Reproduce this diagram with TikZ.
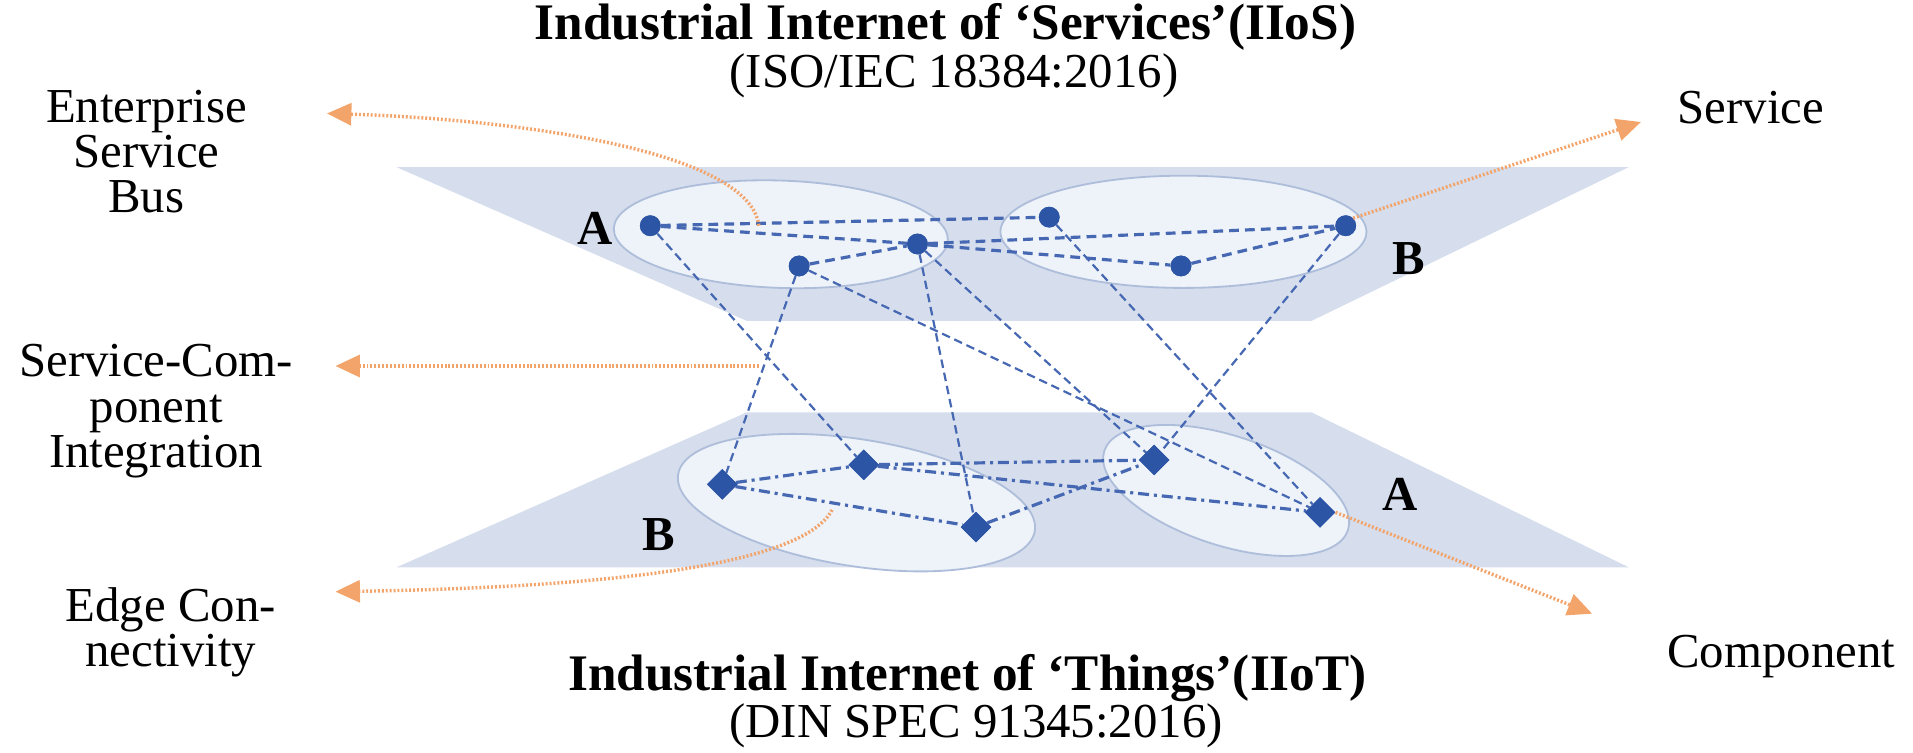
\documentclass[tikz,border=0pt]{standalone}
\usepackage{fontspec}
\setmainfont{Liberation Serif}
\usetikzlibrary{arrows.meta,shapes.geometric,calc}
\definecolor{planec}{HTML}{D6DEEE}
\definecolor{ellfill}{HTML}{EEF2F9}
\definecolor{elldraw}{HTML}{AEBEDA}
\definecolor{dotc}{HTML}{2D55A5}
\definecolor{linec}{HTML}{4668B2}
\definecolor{orangec}{HTML}{F2A46B}
\tikzset{
  plane/.style={fill=planec, draw=none},
  grp/.style={fill=ellfill, draw=elldraw, line width=1.5pt},
  dot/.style={circle, fill=dotc, inner sep=0pt, minimum size=17pt},
  dia/.style={diamond, fill=dotc, inner sep=0pt, minimum size=25pt},
  topedge/.style={draw=linec, line width=2.6pt, dash pattern=on 8pt off 5pt},
  crossedge/.style={draw=linec, line width=1.8pt, dash pattern=on 7pt off 4pt},
  botedge/.style={draw=linec, line width=2.6pt, dash pattern=on 9pt off 4pt on 2.5pt off 4pt},
  pointer/.style={draw=orangec, line width=2.8pt, dash pattern=on 1.6pt off 1.6pt, -{Triangle[length=20pt,width=18pt]}},
  lbl/.style={font=\fontsize{40}{37}\selectfont, align=center, inner sep=0pt},
  ttl/.style={font=\fontsize{42}{42}\selectfont\bfseries, inner sep=0pt},
  sub/.style={font=\fontsize{40}{40}\selectfont, inner sep=0pt},
  grpname/.style={font=\fontsize{40}{40}\selectfont\bfseries, inner sep=0pt}
}
\begin{document}
\begin{tikzpicture}[x=1pt,y=-1pt]
\useasboundingbox (0,0) rectangle (1568,617);
% planes
\fill[plane] (325,137) -- (1335,137) -- (1075,263) -- (612,263) -- cycle;
\fill[plane] (612,338) -- (1075,338) -- (1335,465) -- (325,465) -- cycle;
% group ellipses
\draw[grp, rotate around={-2:(640,192)}] (640,192) ellipse [x radius=137, y radius=44];
\draw[grp] (970,190) ellipse [x radius=150, y radius=46];
\draw[grp, rotate around={-9:(702,412)}] (702,412) ellipse [x radius=148, y radius=52];
\draw[grp, rotate around={-18:(1005,402)}] (1005,402) ellipse [x radius=105, y radius=45];
% nodes
\node[dot] (a1) at (533,185) {};
\node[dot] (a2) at (655,218) {};
\node[dot] (a3) at (752,200) {};
\node[dot] (b1) at (860,178) {};
\node[dot] (b2) at (968,218) {};
\node[dot] (b3) at (1103,185) {};
\node[dia] (d1) at (592,397) {};
\node[dia] (d2) at (708,381) {};
\node[dia] (d3) at (800,432) {};
\node[dia] (d4) at (946,377) {};
\node[dia] (d5) at (1082,420) {};
% top edges
\draw[topedge] (a1) -- (b1);
\draw[topedge] (a1) -- (a3);
\draw[topedge] (a2) -- (a3);
\draw[topedge] (a3) -- (b2);
\draw[topedge] (a3) -- (b3);
\draw[topedge] (b2) -- (b3);
% bottom edges
\draw[botedge] (d1) -- (d2);
\draw[botedge] (d1) -- (d3);
\draw[botedge] (d2) -- (d4);
\draw[botedge] (d2) -- (d5);
\draw[botedge] (d3) -- (d4);
% cross edges
\draw[crossedge] (a1) -- (d2);
\draw[crossedge] (a2) -- (d1);
\draw[crossedge] (a2) -- (d5);
\draw[crossedge] (a3) -- (d3);
\draw[crossedge] (a3) -- (d4);
\draw[crossedge] (b1) -- (d5);
\draw[crossedge] (b3) -- (d4);
% redraw node marks on top
\foreach \n in {a1,a2,a3,b1,b2,b3} \fill[dotc] (\n) circle (8.5pt);
\foreach \n in {d1,d2,d3,d4,d5} \fill[dotc] ($(\n)+(-12.5,0)$) -- ++(12.5,-12.5) -- ++(12.5,12.5) -- ++(-12.5,12.5) -- cycle;
% group names
\node[grpname] (gA1) at (488,187) {A};
\node[grpname] (gB1) at (1155,212) {B};
\node[grpname] (gB2) at (540,438) {B};
\node[grpname] (gA2) at (1148,405) {A};
% titles
\node[ttl] (t1) at (775,22) {Industrial Internet of ‘Services’(IIoS)};
\node[sub] (t2) at (782,62) {(ISO/IEC 18384:2016)};
\node[ttl] (t3) at (793,556) {Industrial Internet of ‘Things’(IIoT)};
\node[sub] (t4) at (800,595) {(DIN SPEC 91345:2016)};
% side labels
\node[lbl] (esb) at (120,124) {Enterprise\\Service\\Bus};
\node[lbl] (sci) at (128,337) {Service-Com-\\ponent\\Integration};
\node[lbl] (ec) at (140,518) {Edge Con-\\nectivity};
\node[lbl] (srv) at (1435,88) {Service};
\node[lbl] (cmp) at (1460,538) {Component};
% pointer coordinates
\coordinate (esbS) at (622,185);
\coordinate (esbE) at (268,93);
\coordinate (sciS) at (622,300);
\coordinate (sciE) at (275,300);
\coordinate (srvE) at (1345,100);
\coordinate (ecS) at (682,418);
\coordinate (ecE) at (275,485);
\coordinate (cmpE) at (1305,503);
\draw[pointer] (esbS) .. controls (615,125) and (430,98) .. (esbE);
\draw[pointer] (sciS) -- (sciE);
\draw[pointer] (b3.north east) -- (srvE);
\draw[pointer] (ecS) .. controls (655,470) and (450,482) .. (ecE);
\draw[pointer] (d5.east) -- (cmpE);
\end{tikzpicture}
\end{document}
